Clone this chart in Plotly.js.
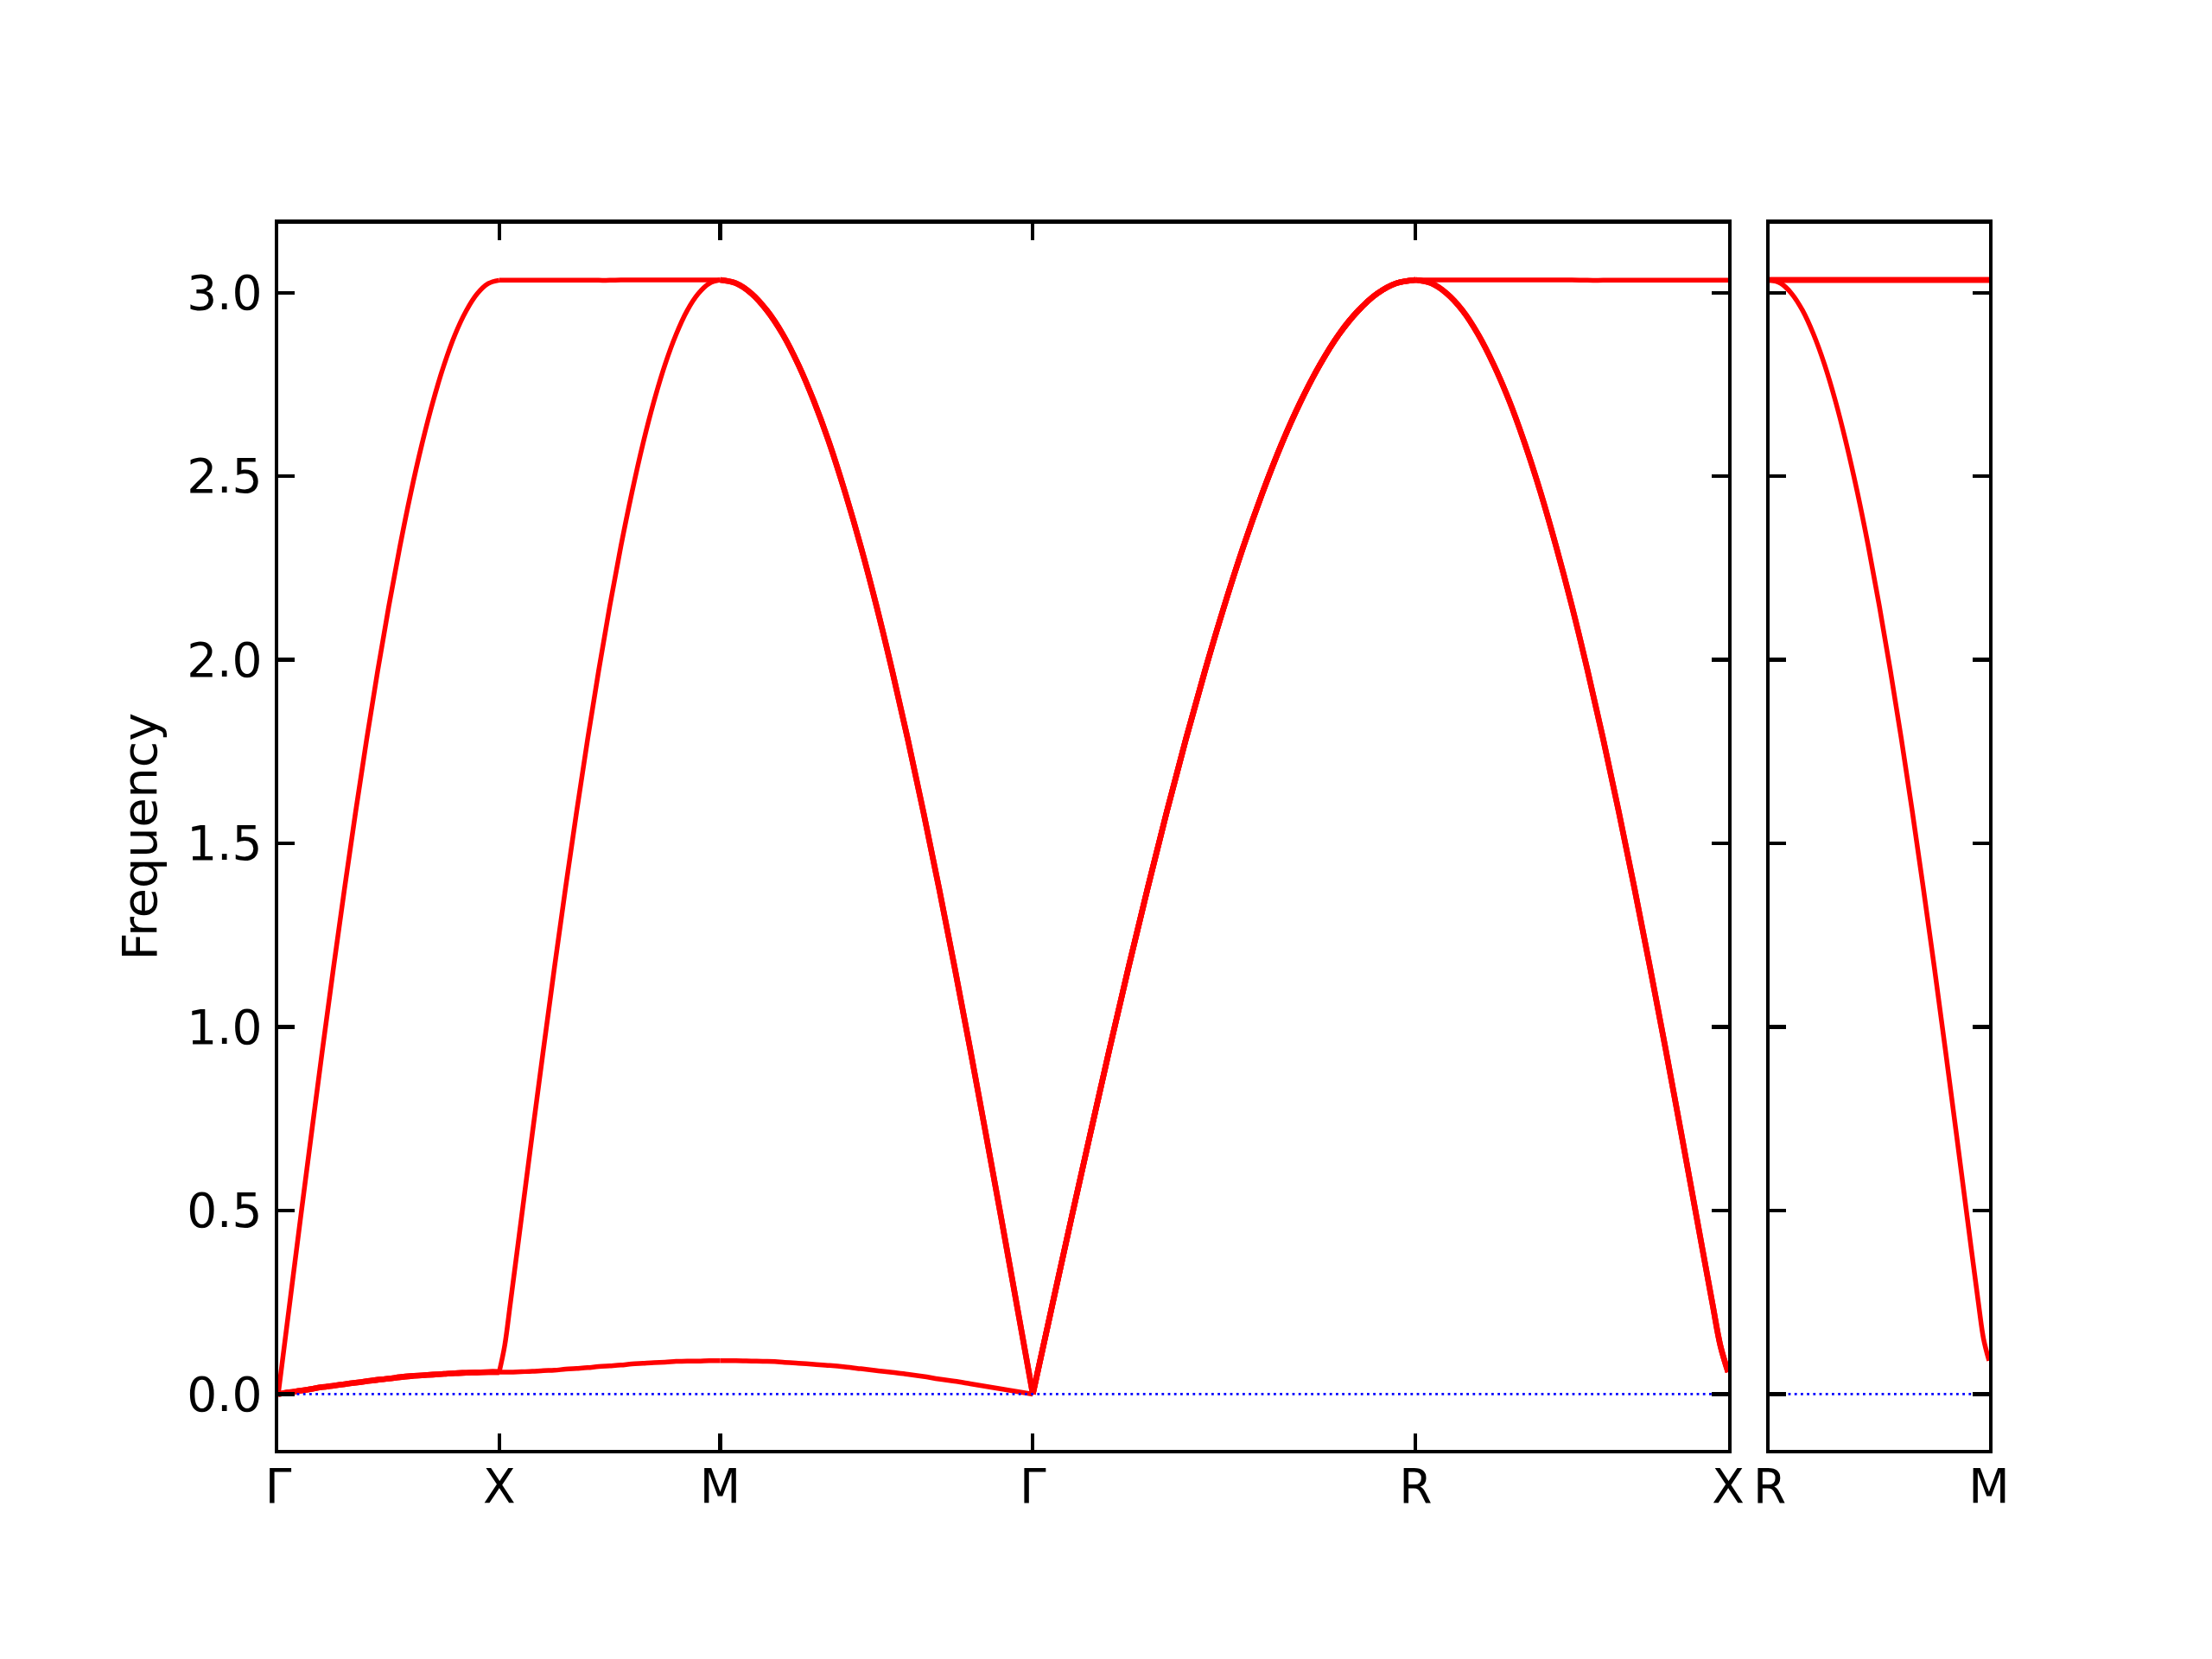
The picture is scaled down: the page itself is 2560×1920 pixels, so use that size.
<!DOCTYPE html>
<html>
<head>
<meta charset="utf-8">
<script src="https://cdn.plot.ly/plotly-3.0.1.min.js"></script>
<style>html,body{margin:0;padding:0;background:#fff;}#chart{width:2560px;height:1920px;}</style>
</head>
<body>
<div id="chart"></div>
<script>
// Path distance along Γ-X-M-Γ-R-X (units of 2π/a)
const kMain = [
  0, 0.025, 0.05, 0.075, 0.1, 0.125, 0.15, 0.175, 0.2, 0.225, 0.25, 0.275, 0.3, 0.325, 0.35, 0.375, 0.4, 0.425, 0.45, 0.475, 0.5,
  0.5125, 0.525, 0.55, 0.575, 0.6, 0.625, 0.65, 0.675, 0.7, 0.725, 0.75, 0.775, 0.8, 0.825, 0.85, 0.875, 0.9, 0.925, 0.95, 0.975, 1.0,
  1.0354, 1.0707, 1.1061, 1.1414, 1.1768, 1.2121, 1.2475, 1.2828, 1.3182, 1.3536, 1.3889, 1.4243, 1.4596, 1.4950, 1.5303, 1.5657, 1.6010, 1.6364, 1.6717, 1.7071,
  1.7504, 1.7937, 1.8370, 1.8803, 1.9236, 1.9669, 2.0102, 2.0535, 2.0968, 2.1401, 2.1834, 2.2267, 2.2700, 2.3133, 2.3566, 2.3999, 2.4432, 2.4865, 2.5298, 2.5731,
  2.6085, 2.6438, 2.6792, 2.7145, 2.7499, 2.7852, 2.8206, 2.8559, 2.8913, 2.9267, 2.9620, 2.9974, 3.0327, 3.0681, 3.1034, 3.1388, 3.1741, 3.2095, 3.2448, 3.2625, 3.2802
];
// index of each high-symmetry point inside kMain (Γ, X, M, Γ, R, X)
const segmentEnds = [0, 20, 41, 61, 81, 102];

const band1Main = [
  0, 0.005, 0.009, 0.014, 0.019, 0.023, 0.027, 0.031, 0.035, 0.039, 0.042, 0.046, 0.049, 0.051, 0.053, 0.055, 0.057, 0.058, 0.059, 0.060, 0.060,
  0.060, 0.060, 0.061, 0.062, 0.064, 0.065, 0.068, 0.070, 0.072, 0.075, 0.077, 0.079, 0.082, 0.084, 0.086, 0.087, 0.089, 0.090, 0.090, 0.091, 0.091,
  0.091, 0.090, 0.089, 0.087, 0.084, 0.081, 0.078, 0.074, 0.069, 0.064, 0.059, 0.054, 0.048, 0.041, 0.035, 0.028, 0.021, 0.014, 0.007, 0,
  0.238, 0.475, 0.708, 0.938, 1.162, 1.378, 1.586, 1.784, 1.971, 2.146, 2.308, 2.455, 2.588, 2.704, 2.804, 2.887, 2.951, 2.998, 3.026, 3.035,
  3.026, 2.998, 2.952, 2.887, 2.804, 2.705, 2.588, 2.456, 2.308, 2.147, 1.972, 1.785, 1.587, 1.379, 1.163, 0.940, 0.711, 0.478, 0.246, 0.133, 0.060
];
const band2Main = [
  0, 0.005, 0.009, 0.014, 0.019, 0.023, 0.027, 0.031, 0.035, 0.039, 0.042, 0.046, 0.049, 0.051, 0.053, 0.055, 0.057, 0.058, 0.059, 0.060, 0.060,
  0.133, 0.246, 0.478, 0.711, 0.939, 1.163, 1.379, 1.586, 1.784, 1.971, 2.146, 2.308, 2.455, 2.588, 2.704, 2.804, 2.886, 2.951, 2.997, 3.025, 3.035,
  3.026, 2.998, 2.951, 2.887, 2.804, 2.704, 2.588, 2.455, 2.308, 2.146, 1.971, 1.784, 1.586, 1.378, 1.162, 0.938, 0.708, 0.475, 0.238, 0,
  0.238, 0.475, 0.708, 0.938, 1.162, 1.378, 1.586, 1.784, 1.971, 2.146, 2.308, 2.455, 2.588, 2.704, 2.804, 2.887, 2.951, 2.998, 3.026, 3.035,
  3.026, 2.998, 2.952, 2.887, 2.804, 2.705, 2.588, 2.456, 2.308, 2.147, 1.972, 1.785, 1.587, 1.379, 1.163, 0.940, 0.711, 0.478, 0.246, 0.133, 0.060
];
const band3Main = [
  0, 0.238, 0.475, 0.708, 0.938, 1.161, 1.377, 1.585, 1.783, 1.970, 2.145, 2.307, 2.455, 2.587, 2.703, 2.803, 2.886, 2.950, 2.997, 3.025, 3.034,
  3.034, 3.034, 3.034, 3.034, 3.034, 3.034, 3.034, 3.034, 3.034, 3.034, 3.034, 3.035, 3.035, 3.035, 3.035, 3.035, 3.035, 3.035, 3.035, 3.035, 3.035,
  3.026, 2.998, 2.951, 2.887, 2.804, 2.704, 2.588, 2.455, 2.308, 2.146, 1.971, 1.784, 1.586, 1.378, 1.162, 0.938, 0.708, 0.475, 0.238, 0,
  0.238, 0.475, 0.708, 0.938, 1.162, 1.378, 1.586, 1.784, 1.971, 2.146, 2.308, 2.455, 2.588, 2.704, 2.804, 2.887, 2.951, 2.998, 3.026, 3.035,
  3.035, 3.035, 3.035, 3.035, 3.035, 3.035, 3.035, 3.035, 3.035, 3.035, 3.034, 3.034, 3.034, 3.034, 3.034, 3.034, 3.034, 3.034, 3.034, 3.034, 3.034
];

// Second panel: R-M
const kRM = [0, 0.025, 0.05, 0.075, 0.1, 0.125, 0.15, 0.175, 0.2, 0.225, 0.25, 0.275, 0.3, 0.325, 0.35, 0.375, 0.4, 0.425, 0.45, 0.475, 0.4875, 0.5];
const segmentEndsRM = [0, 21];
const band1RM = [3.035, 3.026, 2.998, 2.952, 2.887, 2.805, 2.705, 2.588, 2.456, 2.309, 2.147, 1.972, 1.786, 1.588, 1.380, 1.165, 0.942, 0.714, 0.483, 0.255, 0.150, 0.091];
const band2RM = [3.035, 3.035, 3.035, 3.035, 3.035, 3.035, 3.035, 3.035, 3.035, 3.035, 3.035, 3.035, 3.035, 3.035, 3.035, 3.035, 3.035, 3.035, 3.035, 3.035, 3.035, 3.035];
const band3RM = [3.035, 3.035, 3.035, 3.035, 3.035, 3.035, 3.035, 3.035, 3.035, 3.035, 3.035, 3.035, 3.035, 3.035, 3.035, 3.035, 3.035, 3.035, 3.035, 3.035, 3.035, 3.035];

const zeroLevel = [0, 0];

// Tick positions and labels
const tickPosMain = [0, 0.5, 1.0, 1.7071, 2.5731, 3.2802];
const tickLabelsMain = ['Γ', 'X', 'M', 'Γ', 'R', 'X'];
const tickPosRM = [0, 0.5];
const tickLabelsRM = ['R', 'M'];
const yTickVals = [0, 0.5, 1.0, 1.5, 2.0, 2.5, 3.0];
const yTickText = ['0.0', '0.5', '1.0', '1.5', '2.0', '2.5', '3.0'];

// Styles
const RED = '#ff0000';
const BLUE = '#0000ff';
const LW_SINGLE = 5.5;   // a single band
const LW_DEGEN = 6.6;    // overlapping (degenerate) bands drawn twice look heavier
const FONT = 'DejaVu Sans';

function sameSegment(a, b, i0, i1) {
  for (let i = i0; i <= i1; i++) if (Math.abs(a[i] - b[i]) > 0.002) return false;
  return true;
}

function bandTraces(k, bands, ends, xa, ya) {
  const out = [];
  for (let s = 0; s < ends.length - 1; s++) {
    const i0 = ends[s], i1 = ends[s + 1];
    bands.forEach((b, bi) => {
      const degen = bands.some((o, oi) => oi !== bi && sameSegment(b, o, i0, i1));
      out.push({
        x: k.slice(i0, i1 + 1), y: b.slice(i0, i1 + 1), xaxis: xa, yaxis: ya,
        type: 'scatter', mode: 'lines',
        line: {color: RED, width: degen ? LW_DEGEN : LW_SINGLE, shape: 'spline', smoothing: 1},
        hoverinfo: 'skip', showlegend: false
      });
    });
  }
  return out;
}
function zero(x, xa, ya) {
  return {x: [x[0], x[x.length - 1]], y: zeroLevel, xaxis: xa, yaxis: ya, type: 'scatter', mode: 'lines',
          line: {color: BLUE, width: 2.8, dash: '2.8px,4.4px'}, hoverinfo: 'skip', showlegend: false};
}

const traces = []
  .concat(bandTraces(kMain, [band1Main, band2Main, band3Main], segmentEnds, 'x', 'y'))
  .concat([zero(kMain, 'x', 'y')])
  .concat(bandTraces(kRM, [band1RM, band2RM, band3RM], segmentEndsRM, 'x2', 'y2'))
  .concat([zero(kRM, 'x2', 'y2')]);

const yRange = [-0.152, 3.189];
const axCommon = {
  showgrid: false, zeroline: false, showline: true, linecolor: '#000', linewidth: 4.4,
  mirror: 'ticks', ticks: 'inside', ticklen: 19, tickwidth: 4.4, tickcolor: '#000',
  tickfont: {family: FONT, size: 55, color: '#000'}
};
const W = 2560, H = 1920;
const yDom = [1 - 1678 / H, 1 - 258.5 / H];

const layout = {
  width: W, height: H,
  margin: {l: 0, r: 0, t: 0, b: 0},
  paper_bgcolor: '#fff', plot_bgcolor: '#fff',
  showlegend: false,
  xaxis: Object.assign({}, axCommon, {
    domain: [322 / W, 2000 / W], range: [0, 3.2802], anchor: 'y',
    tickmode: 'array', tickvals: tickPosMain, ticktext: tickLabelsMain, ticklabelstandoff: -9
  }),
  yaxis: Object.assign({}, axCommon, {
    domain: yDom, range: yRange, anchor: 'x',
    tickmode: 'array', tickvals: yTickVals, ticktext: yTickText, ticklabelstandoff: 3,
    title: {text: 'Frequency', font: {family: FONT, size: 55.5, color: '#000'}, standoff: 18}
  }),
  xaxis2: Object.assign({}, axCommon, {
    domain: [2048 / W, 2302 / W], range: [0, 0.5], anchor: 'y2',
    tickmode: 'array', tickvals: tickPosRM, ticktext: tickLabelsRM, ticklabelstandoff: -9
  }),
  yaxis2: Object.assign({}, axCommon, {
    domain: yDom, range: yRange, anchor: 'x2',
    tickmode: 'array', tickvals: yTickVals, showticklabels: false
  })
};

Plotly.newPlot('chart', traces, layout, {staticPlot: true, displayModeBar: false});
</script>
</body>
</html>
